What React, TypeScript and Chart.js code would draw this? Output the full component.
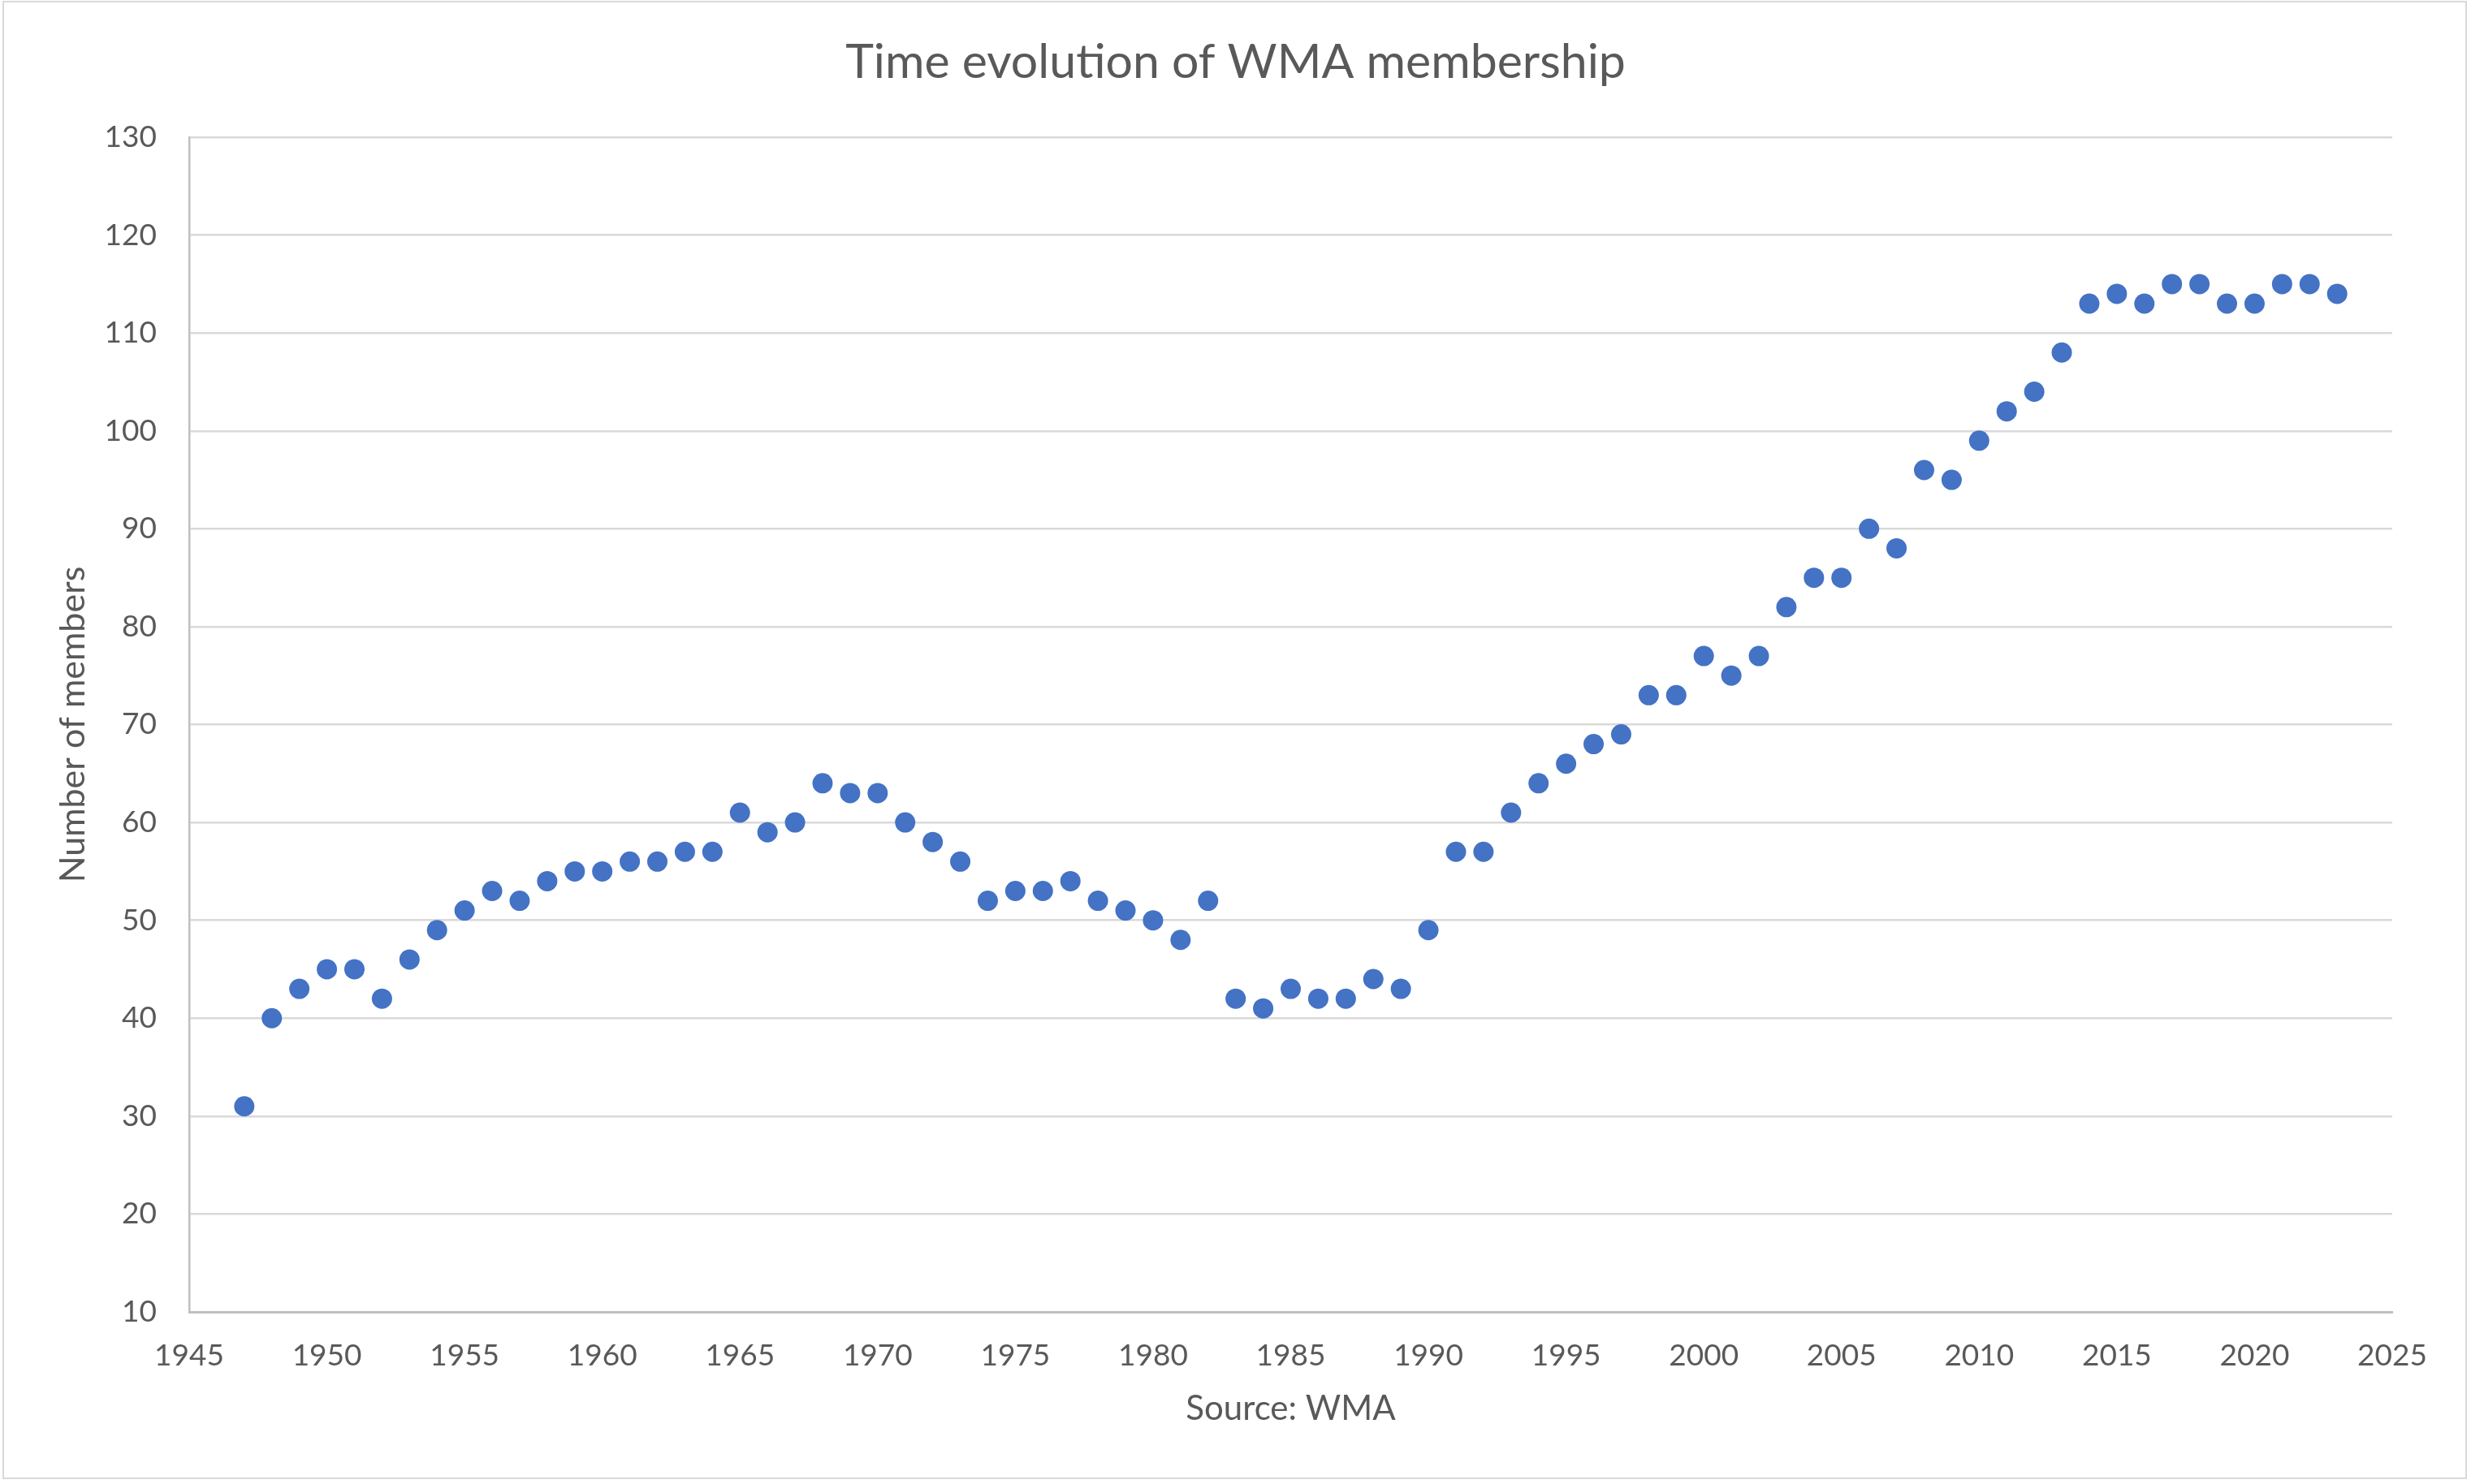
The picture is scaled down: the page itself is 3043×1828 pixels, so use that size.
import React, { useEffect, useRef } from "react";
import { Chart, registerables } from "chart.js";

Chart.register(...registerables);

const years = [
  1947, 1948, 1949, 1950, 1951, 1952, 1953, 1954, 1955, 1956, 1957, 1958, 1959,
  1960, 1961, 1962, 1963, 1964, 1965, 1966, 1967, 1968, 1969, 1970, 1971, 1972,
  1973, 1974, 1975, 1976, 1977, 1978, 1979, 1980, 1981, 1982, 1983, 1984, 1985,
  1986, 1987, 1988, 1989, 1990, 1991, 1992, 1993, 1994, 1995, 1996, 1997, 1998,
  1999, 2000, 2001, 2002, 2003, 2004, 2005, 2006, 2007, 2008, 2009, 2010, 2011,
  2012, 2013, 2014, 2015, 2016, 2017, 2018, 2019, 2020, 2021, 2022, 2023,
];

const members = [
  31, 40, 43, 45, 45, 42, 46, 49, 51, 53, 52, 54, 55,
  55, 56, 56, 57, 57, 61, 59, 60, 64, 63, 63, 60, 58,
  56, 52, 53, 53, 54, 52, 51, 50, 48, 52, 42, 41, 43,
  42, 42, 44, 43, 49, 57, 57, 61, 64, 66, 68, 69, 73,
  73, 77, 75, 77, 82, 85, 85, 90, 88, 96, 95, 99, 102,
  104, 108, 113, 114, 113, 115, 115, 113, 113, 115, 115, 114,
];

const xTickValues = [1945, 1950, 1955, 1960, 1965, 1970, 1975, 1980, 1985, 1990, 1995, 2000, 2005, 2010, 2015, 2020, 2025];
const yTickValues = [10, 20, 30, 40, 50, 60, 70, 80, 90, 100, 110, 120, 130];

const chartTitle = "Time evolution of WMA membership";
const xAxisTitle = "Source: WMA";
const yAxisTitle = "Number of members";

const W = 3043;
const H = 1828;
const TEXT = "#595959";
const FONT = "Lato";

export default function App() {
  const ref = useRef<HTMLCanvasElement>(null);

  useEffect(() => {
    document.body.style.margin = "0";
    document.body.style.overflow = "hidden";
    if (!ref.current) return;

    const framePlugin = {
      id: "frame",
      beforeDraw(chart: any) {
        const ctx = chart.ctx;
        ctx.save();
        ctx.fillStyle = "#ffffff";
        ctx.fillRect(0, 0, chart.width, chart.height);
        ctx.strokeStyle = "#d9d9d9";
        ctx.lineWidth = 2;
        ctx.strokeRect(4, 2, 3033, 1819);
        ctx.restore();
      },
      afterDraw(chart: any) {
        const ctx = chart.ctx;
        ctx.save();
        ctx.fillStyle = TEXT;
        ctx.font = `normal 59px ${FONT}`;
        ctx.textAlign = "center";
        ctx.textBaseline = "alphabetic";
        ctx.fillText(chartTitle, chart.width / 2, 96);
        ctx.restore();
      },
    };

    const chart = new Chart(ref.current, {
      type: "scatter",
      data: {
        datasets: [
          {
            data: years.map((x, i) => ({ x, y: members[i] })),
            backgroundColor: "#4472C4",
            borderWidth: 0,
            pointRadius: 12.5,
            pointHoverRadius: 12.5,
          },
        ],
      },
      options: {
        responsive: false,
        animation: false,
        devicePixelRatio: 1,
        events: [],
        layout: { padding: { left: 0, right: 97, top: 169, bottom: 0 } },
        plugins: {
          legend: { display: false },
          tooltip: { enabled: false },
          title: { display: false },
        },
        scales: {
          x: {
            type: "linear",
            min: 1945,
            max: 2025,
            afterBuildTicks: (s: any) => {
              s.ticks = xTickValues.map((v) => ({ value: v }));
            },
            afterFit: (s: any) => {
              s.height = 212;
            },
            grid: { display: false, drawTicks: false },
            border: { display: true, color: "#bfbfbf", width: 3 },
            ticks: {
              color: TEXT,
              font: { family: FONT, size: 37, lineHeight: 1.2 },
              padding: 32,
              maxRotation: 0,
              autoSkip: false,
              callback: (v: any) => String(v),
            },
            title: {
              display: true,
              text: xAxisTitle,
              color: TEXT,
              font: { family: FONT, size: 42, lineHeight: 1.2 },
              padding: { top: 0, bottom: 67 },
            },
          },
          y: {
            type: "linear",
            min: 10,
            max: 130,
            afterBuildTicks: (s: any) => {
              s.ticks = yTickValues.map((v) => ({ value: v }));
            },
            afterFit: (s: any) => {
              s.width = 233;
            },
            grid: { color: "#d9d9d9", lineWidth: 2.5, drawTicks: false },
            border: { display: true, color: "#bfbfbf", width: 2.5 },
            ticks: {
              color: TEXT,
              font: { family: FONT, size: 37, lineHeight: 1.2 },
              padding: 40,
              autoSkip: false,
              callback: (v: any) => String(v),
            },
            title: {
              display: true,
              text: yAxisTitle,
              color: TEXT,
              font: { family: FONT, size: 43, lineHeight: 1.2 },
              padding: { top: 64, bottom: 0 },
            },
          },
        },
      },
      plugins: [framePlugin],
    });

    return () => chart.destroy();
  }, []);

  return (
    <canvas
      ref={ref}
      width={W}
      height={H}
      style={{ display: "block", width: W, height: H }}
    />
  );
}
